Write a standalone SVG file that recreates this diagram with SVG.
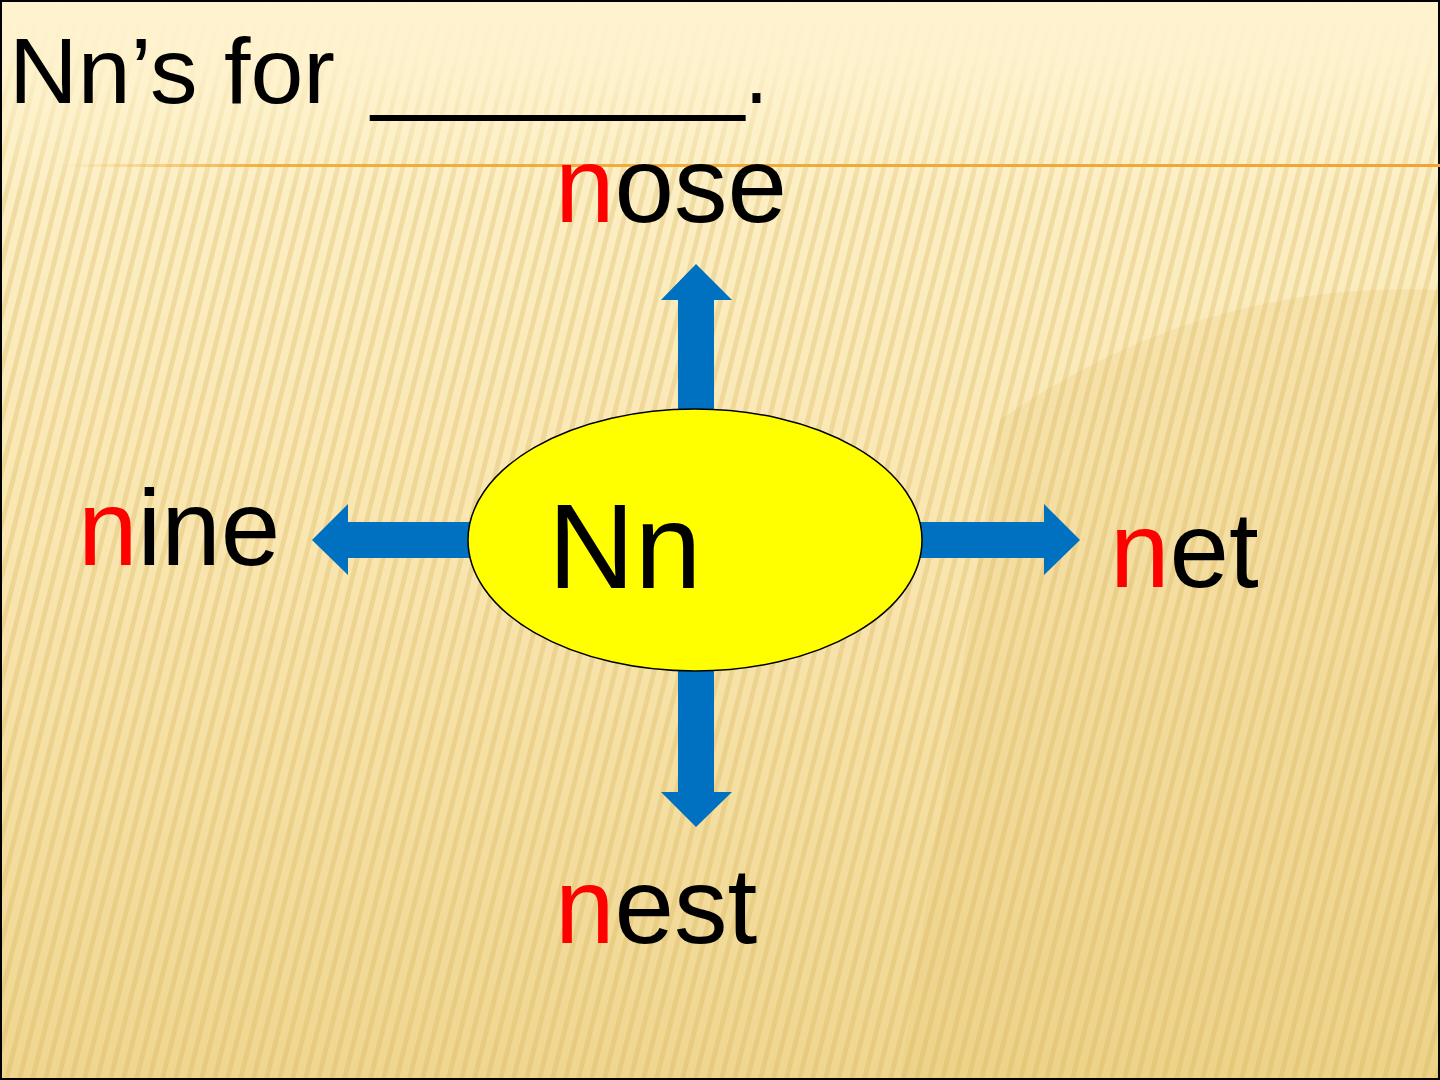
<svg xmlns="http://www.w3.org/2000/svg" width="1440" height="1080" viewBox="0 0 1440 1080">
<defs>
<linearGradient id="bg" x1="0" y1="0" x2="0" y2="1">
<stop offset="0" stop-color="#FEF3CE"/>
<stop offset="0.5" stop-color="#F9E6B0"/>
<stop offset="1" stop-color="#EFD690"/>
</linearGradient>
<linearGradient id="fadeTop" x1="0" y1="0" x2="0" y2="1">
<stop offset="0" stop-color="#FEF3CE" stop-opacity="1"/>
<stop offset="0.05" stop-color="#FEF3CE" stop-opacity="0.9"/>
<stop offset="0.18" stop-color="#FEF3CE" stop-opacity="0"/>
</linearGradient>
<pattern id="stripes" width="13" height="1080" patternUnits="userSpaceOnUse" patternTransform="skewX(-14)">
<rect x="0" y="0" width="5" height="1080" fill="#D4B058" opacity="0.3"/>
</pattern>
<linearGradient id="rule" x1="0" y1="0" x2="1" y2="0">
<stop offset="0" stop-color="#F0A830" stop-opacity="0"/>
<stop offset="0.15" stop-color="#F0A830" stop-opacity="0.9"/>
<stop offset="1" stop-color="#EFA535"/>
</linearGradient>
<style>
.lbl{font-family:"Liberation Sans",Arial,sans-serif;font-size:107px;fill:#000}
.big{font-family:"Liberation Sans",Arial,sans-serif;font-size:120px;fill:#000}
.ttl{font-family:"Liberation Sans",Arial,sans-serif;font-size:92px;fill:#000}
.red{fill:#FF0000}
.arrow{fill:#0070C0}
</style>
</defs>
<rect x="0" y="0" width="1440" height="1080" fill="url(#bg)"/>
<path d="M1000 420 Q1200 280 1440 290 L1440 1080 L900 1080 Z" fill="#E6C878" opacity="0.25"/>
<rect x="0" y="0" width="1440" height="1080" fill="url(#stripes)"/>
<rect x="0" y="0" width="1440" height="1080" fill="url(#fadeTop)"/>
<rect x="1" y="1" width="1438" height="1078" fill="none" stroke="#000" stroke-width="2"/>
<rect x="60" y="164" width="1380" height="3" fill="url(#rule)"/>
<text class="ttl" x="9" y="103" textLength="326" lengthAdjust="spacingAndGlyphs">Nn’s for</text>
<text class="ttl" x="371" y="103" textLength="397" lengthAdjust="spacingAndGlyphs">________.</text>
<g id="connectors">
<polygon class="arrow" points="678,410 678,300 661,300 696,264 732,300 714,300 714,410"/>
<polygon class="arrow" points="678,670 678,792 661,792 696,827 732,792 714,792 714,670"/>
<polygon class="arrow" points="472,522 348,522 348,504 312,540 348,575 348,558 472,558"/>
<polygon class="arrow" points="920,522 1044,522 1044,504 1080,540 1044,575 1044,558 920,558"/>
</g>
<g id="center">
<ellipse cx="695" cy="540" rx="227" ry="131" fill="#FFFF00" stroke="#000" stroke-width="1.5"/>
<text class="big" x="548" y="588">Nn</text>
</g>
<g id="nose"><text class="lbl" x="555" y="222"><tspan class="red">n</tspan>ose</text></g>
<g id="nine"><text class="lbl" x="78" y="565"><tspan class="red">n</tspan>ine</text></g>
<g id="net"><text class="lbl" x="1110" y="587"><tspan class="red">n</tspan>et</text></g>
<g id="nest"><text class="lbl" x="555" y="943"><tspan class="red">n</tspan>est</text></g>
</svg>
